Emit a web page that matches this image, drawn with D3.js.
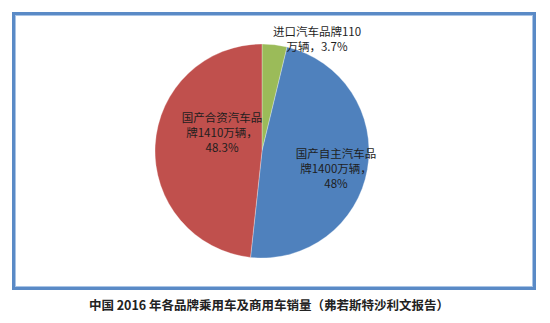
<!DOCTYPE html>
<html>
<head>
<meta charset="utf-8">
<script src="https://cdn.jsdelivr.net/npm/d3@7"></script>
<style>
  body { margin: 0; background: #fff; }
  svg text { font-family: "Noto Sans CJK SC", "Noto Sans", sans-serif; }
</style>
</head>
<body>
<div id="chart"></div>
<script>
// data
let brands = ["进口汽车品牌", "国产自主汽车品牌", "国产合资汽车品牌"];
let sales = [110, 1400, 1410];          // 万辆
let shares = ["3.7%", "48%", "48.3%"];
let labelLines = [
  ["进口汽车品牌110", "万辆，3.7%"],
  ["国产自主汽车品", "牌1400万辆，", "48%"],
  ["国产合资汽车品", "牌1410万辆，", "48.3%"]
];
let colors = ["#9BBB59", "#4F81BD", "#C0504D"];
let caption = "中国 2016 年各品牌乘用车及商用车销量（弗若斯特沙利文报告）";

let width = 550, height = 323;
let cx = 262, cy = 151, radius = 107;
// label centres relative to pie centre, one per slice
let labelOffset = [[55, -119], [74, 3], [-40, -33]];

let svg = d3.select("#chart").append("svg")
    .attr("width", width)
    .attr("height", height);

// chart frame
svg.append("rect")
    .attr("x", 13.5).attr("y", 13.5)
    .attr("width", 521).attr("height", 275)
    .attr("fill", "none")
    .attr("stroke", "#5A8AC6")
    .attr("stroke-width", 3);
svg.append("rect")
    .attr("x", 15.5).attr("y", 15.5)
    .attr("width", 517).attr("height", 271)
    .attr("fill", "none")
    .attr("stroke", "#A9C4E6")
    .attr("stroke-width", 1);

let pie = d3.pie().sort(null).value(function(d){ return d; });
let arc = d3.arc().innerRadius(0).outerRadius(radius);

let g = svg.append("g").attr("transform", "translate(" + cx + "," + cy + ")");

g.selectAll("path")
    .data(pie(sales))
  .enter().append("path")
    .attr("d", arc)
    .attr("fill", function(d, i){ return colors[i]; })
    .attr("stroke", "#ffffff")
    .attr("stroke-opacity", 0.5)
    .attr("stroke-width", 0.6);

let lineH = 15;
let labels = g.selectAll("text.lbl")
    .data(labelLines)
  .enter().append("text")
    .attr("class", "lbl")
    .attr("text-anchor", "middle")
    .attr("font-size", 11.5)
    .attr("fill", "#1e1e1e")
    .attr("transform", function(d, i){
      return "translate(" + labelOffset[i][0] + "," + labelOffset[i][1] + ")";
    });

labels.selectAll("tspan")
    .data(function(d){ return d; })
  .enter().append("tspan")
    .attr("x", 0)
    .attr("y", function(d, j){ return j * lineH; })
    .attr("dy", "0.35em")
    .text(function(d){ return d; });

svg.append("text")
    .attr("x", 269)
    .attr("y", 306)
    .attr("dy", "0.35em")
    .attr("text-anchor", "middle")
    .attr("font-size", 12.5)
    .attr("font-weight", "bold")
    .attr("fill", "#222")
    .text(caption);
</script>
</body>
</html>
